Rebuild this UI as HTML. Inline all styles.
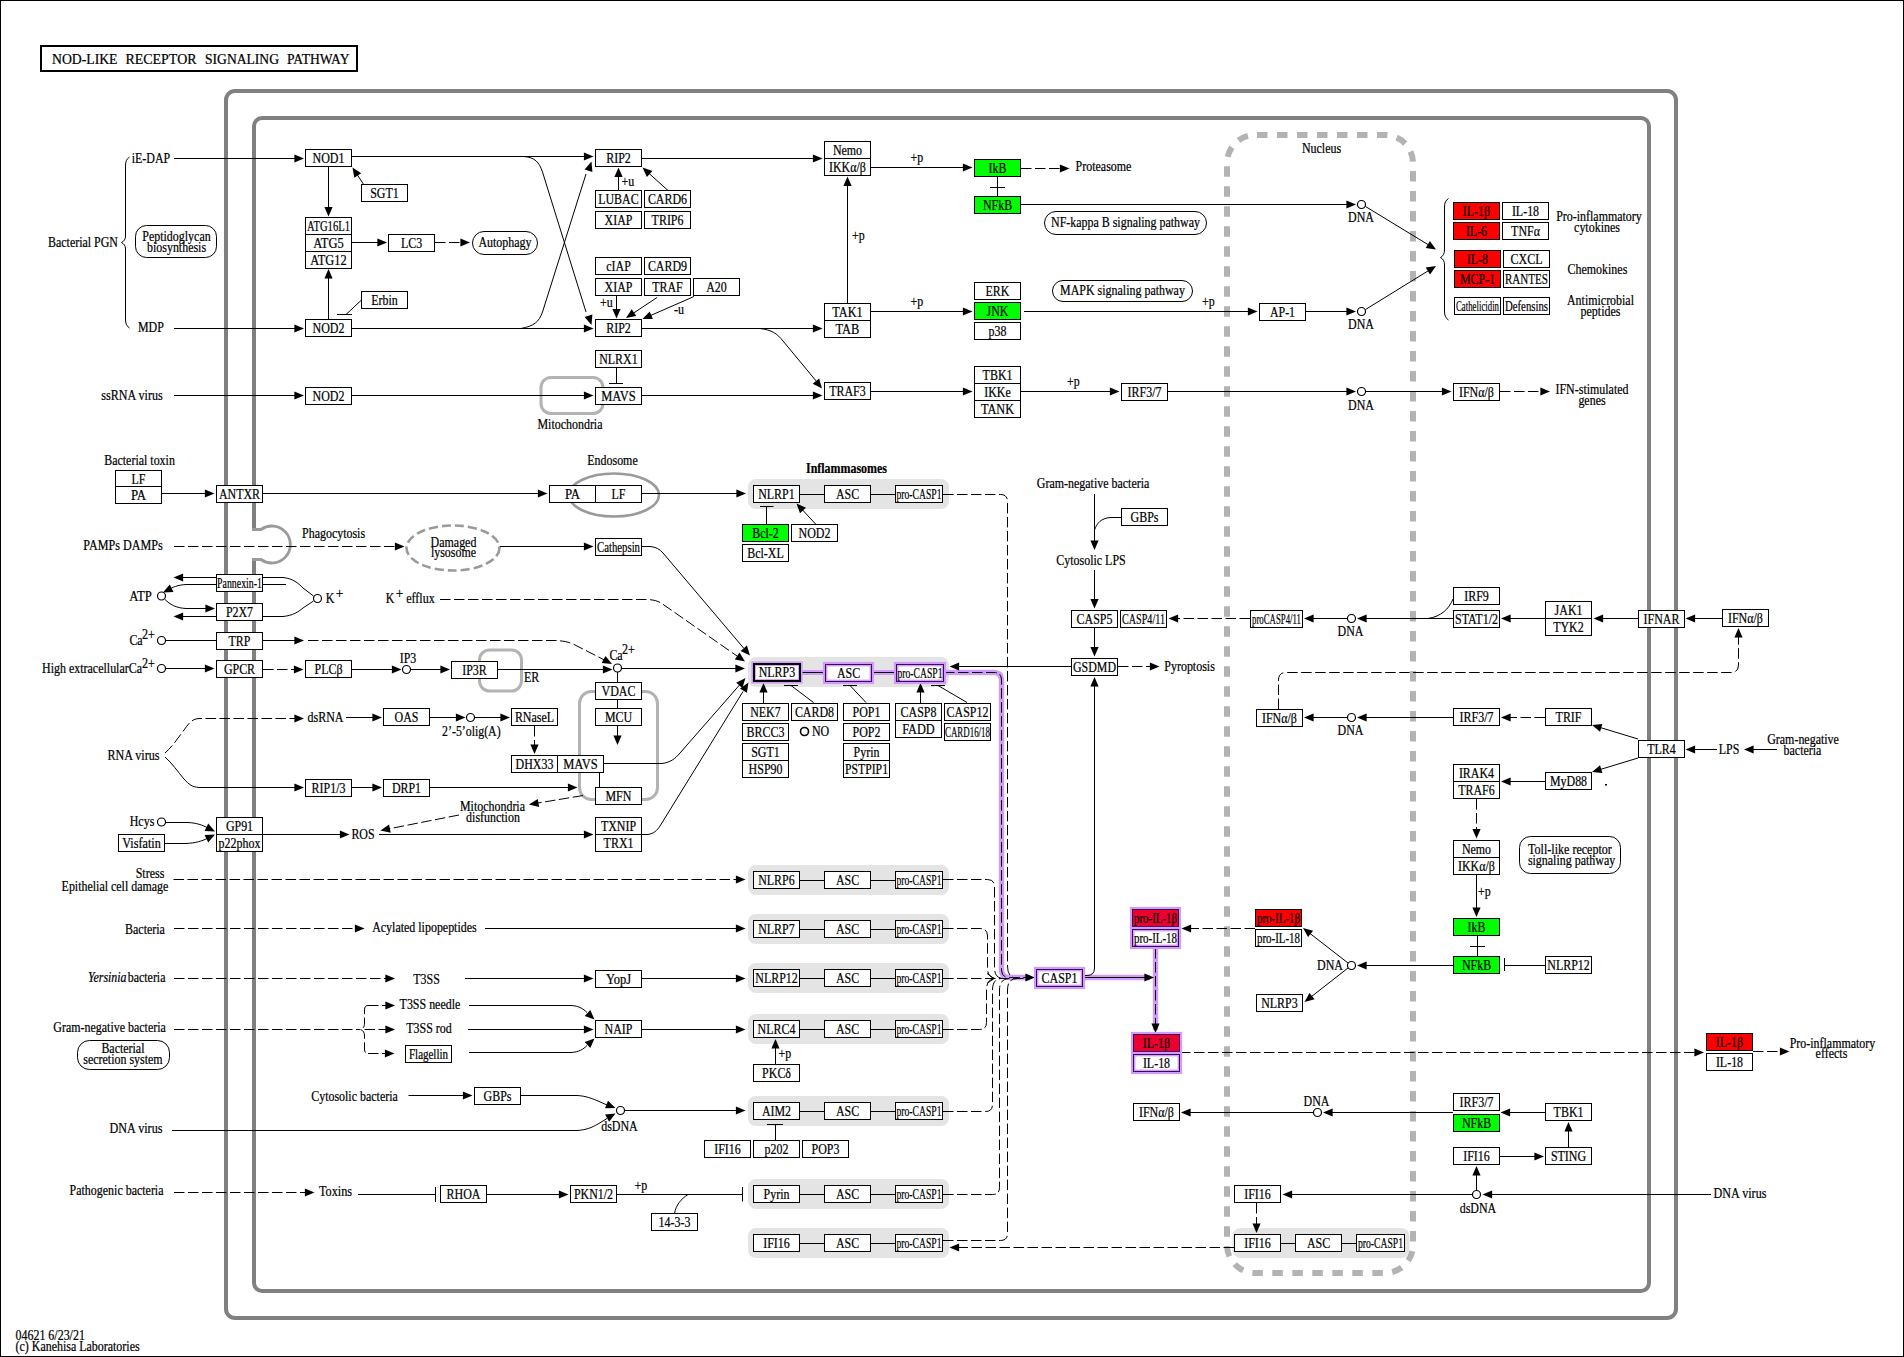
<!DOCTYPE html>
<html><head><meta charset="utf-8"><title>NOD-like receptor signaling pathway</title>
<style>html,body{margin:0;padding:0;background:#fff}svg{display:block}text{font-family:"Liberation Serif","DejaVu Serif",serif;font-size:14px;fill:#000;stroke:#000;stroke-width:0.22px}.ln path{fill:none;stroke:#000;stroke-width:1}.bx rect{fill:#fff;stroke:#000;stroke-width:1;shape-rendering:crispEdges}.bx circle{fill:#fff;stroke:#000}</style></head><body>
<svg width="1904" height="1357" viewBox="0 0 1904 1357">
<rect x="0" y="0" width="1904" height="1357" fill="#fff"/>
<g><rect x="0.5" y="0.5" width="1903" height="1356" fill="none" stroke="#000" stroke-width="1" shape-rendering="crispEdges"/>
<rect x="748" y="479" width="201" height="30" rx="8" ry="8" fill="#e4e4e4"/>
<rect x="748" y="657" width="201" height="30" rx="8" ry="8" fill="#e4e4e4"/>
<rect x="748" y="865" width="201" height="30" rx="8" ry="8" fill="#e4e4e4"/>
<rect x="748" y="914" width="201" height="30" rx="8" ry="8" fill="#e4e4e4"/>
<rect x="748" y="963" width="201" height="30" rx="8" ry="8" fill="#e4e4e4"/>
<rect x="748" y="1014" width="201" height="30" rx="8" ry="8" fill="#e4e4e4"/>
<rect x="748" y="1096" width="201" height="30" rx="8" ry="8" fill="#e4e4e4"/>
<rect x="748" y="1179" width="201" height="30" rx="8" ry="8" fill="#e4e4e4"/>
<rect x="748" y="1228" width="201" height="30" rx="8" ry="8" fill="#e4e4e4"/>
<rect x="1232.5" y="1228" width="177" height="30" rx="8" ry="8" fill="#e4e4e4"/></g>
<g><rect x="226" y="91" width="1450" height="1227" rx="9" ry="9" fill="none" stroke="#808080" stroke-width="4"/>
<path d="M254 529V126a8 8 0 0 1 8 -8H1641a8 8 0 0 1 8 8V1283a8 8 0 0 1 -8 8H262a8 8 0 0 1 -8 -8V559" fill="none" stroke="#808080" stroke-width="4"/>
<path d="M252 529.5H261A18.5 18.5 0 1 1 261 559.5H252" fill="none" stroke="#9a9a9a" stroke-width="2.8"/>
<rect x="1227" y="135" width="186" height="1138" rx="28" ry="28" fill="none" stroke="#b3b3b3" stroke-width="6" stroke-dasharray="10.5 9.5" stroke-dashoffset="18"/>
<rect x="541" y="377.5" width="62" height="36" rx="10" ry="10" fill="none" stroke="#b3b3b3" stroke-width="3"/>
<rect x="479.5" y="650" width="42" height="41" rx="10" ry="10" fill="none" stroke="#b3b3b3" stroke-width="3"/>
<rect x="579.5" y="691.5" width="78" height="108" rx="12" ry="12" fill="none" stroke="#b3b3b3" stroke-width="3"/>
<ellipse cx="614" cy="495" rx="45" ry="21.5" fill="none" stroke="#9a9a9a" stroke-width="2.6"/>
<ellipse cx="453" cy="548" rx="46.5" ry="22.5" fill="none" stroke="#9a9a9a" stroke-width="2.6" stroke-dasharray="9 4"/></g>
<g class="ln"><path d="M800 672.5H825M872 672.5H896" style="stroke:#d19cf7;stroke-width:5"/>
<path d="M944 672.5H994Q1001.5 672.5 1001.5 680V970Q1001.5 977.5 1009 977.5H1030" style="stroke:#d19cf7;stroke-width:5.4"/>
<path d="M1083 977.5H1150" style="stroke:#d19cf7;stroke-width:5.4"/>
<path d="M1155.5 948V1030" style="stroke:#d19cf7;stroke-width:5.4"/></g>
<g class="ln"><path d="M129.5 157C126.5 159 125.5 161.5 125.5 166V236C125.5 239.5 124 241 121.5 242.5C124 244 125.5 245.5 125.5 249V319C125.5 323.5 126.5 326 129.5 328"/>
<rect x="135.5" y="225.5" width="81" height="32" rx="11" ry="11" fill="none" stroke="#000" stroke-width="1"/>
<path d="M174 158.5L295.4 158.5"/>
<polygon points="304,158.5 294.4,162.6 294.4,154.4" fill="#000" stroke="none"/>
<path d="M174 328.5L295.4 328.5"/>
<polygon points="304,328.5 294.4,332.6 294.4,324.4" fill="#000" stroke="none"/>
<path d="M174 395.5L295.4 395.5"/>
<polygon points="304,395.5 294.4,399.6 294.4,391.4" fill="#000" stroke="none"/>
<path d="M328.5 167L328.5 207.9"/>
<polygon points="328.5,216.5 324.4,206.9 332.6,206.9" fill="#000" stroke="none"/>
<path d="M328.5 319L328.5 277.6"/>
<polygon points="328.5,269 332.6,278.6 324.4,278.6" fill="#000" stroke="none"/>
<path d="M364 185L357.2 174.7"/>
<polygon points="352.5,167.5 361.2,173.3 354.3,177.8" fill="#000" stroke="none"/>
<path d="M361.5 300L346 314.5M337 314.5H352"/>
<path d="M352 242.5L378.4 242.5"/>
<polygon points="387,242.5 377.4,246.6 377.4,238.4" fill="#000" stroke="none"/>
<path d="M435 242.5L461.4 242.5" stroke-dasharray="10.5 3.5"/>
<polygon points="470,242.5 460.4,246.6 460.4,238.4" fill="#000" stroke="none"/>
<rect x="472.5" y="231.5" width="65" height="23" rx="11.5" ry="11.5" fill="none" stroke="#000" stroke-width="1"/>
<path d="M352 156.5L584.9 156.5"/>
<polygon points="593.5,156.5 583.9,160.6 583.9,152.4" fill="#000" stroke="none"/>
<path d="M352 328.5L584.9 328.5"/>
<polygon points="593.5,328.5 583.9,332.6 583.9,324.4" fill="#000" stroke="none"/>
<path d="M524 156.5C535 157.5 539 162 542.5 172L586 312"/>
<polygon points="591.5,325 584.6,317.1 592.4,314.6" fill="#000" stroke="none"/>
<path d="M521 328.5C534 326 539 322 542.5 312L586 174"/>
<polygon points="591.5,161.5 592.4,171.9 584.6,169.4" fill="#000" stroke="none"/>
<path d="M618.5 190L618.5 176.1"/>
<polygon points="618.5,167.5 622.6,177.1 614.4,177.1" fill="#000" stroke="none"/>
<path d="M668 190.5L648.9 173.3"/>
<polygon points="642.5,167.5 652.4,170.9 646.9,177" fill="#000" stroke="none"/>
<path d="M616.5 296L616.5 309.9"/>
<polygon points="616.5,318.5 612.4,308.9 620.6,308.9" fill="#000" stroke="none"/>
<path d="M657 297.5L633.2 313.3"/>
<polygon points="626,318 631.7,309.3 636.3,316.1" fill="#000" stroke="none"/>
<path d="M694 296.5L650.4 315.6"/>
<polygon points="642.5,319 649.7,311.4 652.9,318.9" fill="#000" stroke="none"/>
<path d="M642 158.5L813.9 158.5"/>
<polygon points="822.5,158.5 812.9,162.6 812.9,154.4" fill="#000" stroke="none"/>
<path d="M642 328.5L813.9 328.5"/>
<polygon points="822.5,328.5 812.9,332.6 812.9,324.4" fill="#000" stroke="none"/>
<path d="M847.5 303L847.5 185.1"/>
<polygon points="847.5,176.5 851.6,186.1 843.4,186.1" fill="#000" stroke="none"/>
<path d="M871 167.5L963.9 167.5"/>
<polygon points="972.5,167.5 962.9,171.6 962.9,163.4" fill="#000" stroke="none"/>
<path d="M871 311.5L963.9 311.5"/>
<polygon points="972.5,311.5 962.9,315.6 962.9,307.4" fill="#000" stroke="none"/>
<path d="M760 328.5C772 330 777 333.5 783 341L817 382"/>
<polygon points="822,388.5 812.7,383.7 819.1,378.5" fill="#000" stroke="none"/>
<path d="M997.5 177V196M990 187.5H1005"/>
<path d="M1021 168.5L1060.9 168.5" stroke-dasharray="10.5 3.5"/>
<polygon points="1069.5,168.5 1059.9,172.6 1059.9,164.4" fill="#000" stroke="none"/>
<path d="M1021 204.5L1347.4 204.5"/>
<polygon points="1356,204.5 1346.4,208.6 1346.4,200.4" fill="#000" stroke="none"/>
<rect x="1044.5" y="211.5" width="162" height="23" rx="11.5" ry="11.5" fill="none" stroke="#000" stroke-width="1"/>
<rect x="1052.5" y="280.5" width="140" height="21" rx="10.5" ry="10.5" fill="none" stroke="#000" stroke-width="1"/>
<path d="M1024 311.5L1248.9 311.5"/>
<polygon points="1257.5,311.5 1247.9,315.6 1247.9,307.4" fill="#000" stroke="none"/>
<path d="M1306 311.5L1347.4 311.5"/>
<polygon points="1356,311.5 1346.4,315.6 1346.4,307.4" fill="#000" stroke="none"/>
<path d="M1365.5 206.5L1428.7 245"/>
<polygon points="1436,249.5 1425.7,248 1429.9,241" fill="#000" stroke="none"/>
<path d="M1365.5 309.5L1428.7 270.5"/>
<polygon points="1436,266 1430,274.5 1425.7,267.6" fill="#000" stroke="none"/>
<path d="M1448.5 198.5C1445.5 200.5 1444.5 203 1444.5 207V250C1444.5 254 1443 256 1440.5 257.5C1443 259 1444.5 261 1444.5 265V311C1444.5 315.5 1445.5 318 1448.5 320"/>
<path d="M616.5 368V383.5M609 383.5H623"/>
<path d="M352 395.5L584.9 395.5"/>
<polygon points="593.5,395.5 583.9,399.6 583.9,391.4" fill="#000" stroke="none"/>
<path d="M642 395.5L813.9 395.5"/>
<polygon points="822.5,395.5 812.9,399.6 812.9,391.4" fill="#000" stroke="none"/>
<path d="M871 391.5L963.9 391.5"/>
<polygon points="972.5,391.5 962.9,395.6 962.9,387.4" fill="#000" stroke="none"/>
<path d="M1021 391.5L1110.9 391.5"/>
<polygon points="1119.5,391.5 1109.9,395.6 1109.9,387.4" fill="#000" stroke="none"/>
<path d="M1168 391.5L1347.4 391.5"/>
<polygon points="1356,391.5 1346.4,395.6 1346.4,387.4" fill="#000" stroke="none"/>
<path d="M1366 391.5L1442.9 391.5"/>
<polygon points="1451.5,391.5 1441.9,395.6 1441.9,387.4" fill="#000" stroke="none"/>
<path d="M1500 391.5L1541.4 391.5" stroke-dasharray="10.5 3.5"/>
<polygon points="1550,391.5 1540.4,395.6 1540.4,387.4" fill="#000" stroke="none"/>
<path d="M162 493.5L205.9 493.5"/>
<polygon points="214.5,493.5 204.9,497.6 204.9,489.4" fill="#000" stroke="none"/>
<path d="M263 493.5L538.9 493.5"/>
<polygon points="547.5,493.5 537.9,497.6 537.9,489.4" fill="#000" stroke="none"/>
<path d="M642 493.5L737.4 493.5"/>
<polygon points="746,493.5 736.4,497.6 736.4,489.4" fill="#000" stroke="none"/>
<path d="M800 494.5H824M871 494.5H895"/>
<path d="M766.5 524V506.5M760 506.5H773.5"/>
<path d="M816 524.5L802.4 509.8"/>
<polygon points="796.5,503.5 806,507.7 800,513.3" fill="#000" stroke="none"/>
<path d="M943 494.5H1000.5Q1007.5 494.5 1007.5 501.5V966Q1007.5 978.5 1018 978.5" stroke-dasharray="10.5 3.5"/>
<path d="M174 546.5L395.9 546.5" stroke-dasharray="10.5 3.5"/>
<polygon points="404.5,546.5 394.9,550.6 394.9,542.4" fill="#000" stroke="none"/>
<path d="M500 546.5L584.9 546.5"/>
<polygon points="593.5,546.5 583.9,550.6 583.9,542.4" fill="#000" stroke="none"/>
<path d="M642 546.5H650C656 547 659.5 549 663 553L744 648.5"/>
<polygon points="750,655.5 740.7,650.9 746.9,645.5" fill="#000" stroke="none"/>
<path d="M216 577.5L182.1 577.5"/>
<polygon points="173.5,577.5 183.1,573.4 183.1,581.6" fill="#000" stroke="none"/>
<path d="M216 616.5L182.1 616.5"/>
<polygon points="173.5,616.5 183.1,612.4 183.1,620.6" fill="#000" stroke="none"/>
<path d="M216 584.5H186C178 585 172.5 587 168.5 590"/>
<polygon points="163,592.5 169.8,584.5 173.4,591.9" fill="#000" stroke="none"/>
<path d="M165 599.5C170 604.5 176 608 186 608.5H206"/>
<polygon points="215,608.5 205.4,612.6 205.4,604.4" fill="#000" stroke="none"/>
<path d="M263 577.5H283C293 578.5 298 583 303 588L313.5 596"/>
<path d="M263 584.5H286"/>
<path d="M263 616.5H283C293 615.5 298 612 303 608L313.5 601"/>
<path d="M440 599.5H648C656 600 660 602 664 605L737 656" stroke-dasharray="10.5 3.5"/>
<polygon points="745,661.5 734.8,659.4 739.5,652.6" fill="#000" stroke="none"/>
<path d="M165.5 640.5L216 640.5"/>
<path d="M263 640.5L295.4 640.5"/>
<polygon points="304,640.5 294.4,644.6 294.4,636.4" fill="#000" stroke="none"/>
<path d="M308 640.5H556C566 641 572 643 578 646.5L604.5 660" stroke-dasharray="10.5 3.5"/>
<polygon points="612,664 601.6,663.1 605.5,655.9" fill="#000" stroke="none"/>
<path d="M165.5 668.5L205.9 668.5"/>
<polygon points="214.5,668.5 204.9,672.6 204.9,664.4" fill="#000" stroke="none"/>
<path d="M263 669.5L294.9 669.5" stroke-dasharray="10.5 3.5"/>
<polygon points="303.5,669.5 293.9,673.6 293.9,665.4" fill="#000" stroke="none"/>
<path d="M352 669.5L392.9 669.5"/>
<polygon points="401.5,669.5 391.9,673.6 391.9,665.4" fill="#000" stroke="none"/>
<path d="M410.5 669.5L441.4 669.5"/>
<polygon points="450,669.5 440.4,673.6 440.4,665.4" fill="#000" stroke="none"/>
<path d="M498 669.5L603.9 669.5"/>
<polygon points="612.5,669.5 602.9,673.6 602.9,665.4" fill="#000" stroke="none"/>
<path d="M621.5 668.5L736.4 668.5"/>
<polygon points="745,668.5 735.4,672.6 735.4,664.4" fill="#000" stroke="none"/>
<path d="M617.5 672L617.5 682"/>
<path d="M800 672.5H825M872 672.5H896" stroke="#3a0a5e" stroke-width="1.6"/>
<path d="M944 672.5H994Q1001.5 672.5 1001.5 680V970Q1001.5 977.5 1009 977.5H1026" stroke="#3a0a5e" stroke-width="1.6" stroke-dasharray="10.5 3.5"/>
<polygon points="1035,977.5 1025.4,981.6 1025.4,973.4" fill="#000" stroke="none"/>
<path d="M1083 977.5H1145" stroke="#3a0a5e" stroke-width="1.6"/>
<polygon points="1154,977.5 1144.4,981.6 1144.4,973.4" fill="#000" stroke="none"/>
<path d="M1155.5 948V1024" stroke="#3a0a5e" stroke-width="1.6" stroke-dasharray="10.5 3.5"/>
<polygon points="1155.5,1033 1151.4,1023.4 1159.6,1023.4" fill="#000" stroke="none"/>
<path d="M1071 666.5L958.1 666.5"/>
<polygon points="949.5,666.5 959.1,662.4 959.1,670.6" fill="#000" stroke="none"/>
<path d="M763.5 703L763.5 691.6"/>
<polygon points="763.5,683 767.6,692.6 759.4,692.6" fill="#000" stroke="none"/>
<path d="M920.5 703L920.5 691.6"/>
<polygon points="920.5,683 924.6,692.6 916.4,692.6" fill="#000" stroke="none"/>
<path d="M813.5 702.5L791 685.5M784 685.5H798"/>
<path d="M866 702.5L850 685.5M843 685.5H857"/>
<path d="M967 702.5L938 685.5M931 685.5H945"/>
<path d="M1094.5 494L1094.5 541.4"/>
<polygon points="1094.5,550 1090.4,540.4 1098.6,540.4" fill="#000" stroke="none"/>
<path d="M1121 517.5H1110C1101 518.5 1097 523 1094.5 530"/>
<path d="M1094.5 570L1094.5 599.9"/>
<polygon points="1094.5,608.5 1090.4,598.9 1098.6,598.9" fill="#000" stroke="none"/>
<path d="M1094.5 628L1094.5 647.9"/>
<polygon points="1094.5,656.5 1090.4,646.9 1098.6,646.9" fill="#000" stroke="none"/>
<path d="M1118 666.5L1150.9 666.5" stroke-dasharray="10.5 3.5"/>
<polygon points="1159.5,666.5 1149.9,670.6 1149.9,662.4" fill="#000" stroke="none"/>
<path d="M1250 618.5L1177.1 618.5" stroke-dasharray="10.5 3.5"/>
<polygon points="1168.5,618.5 1178.1,614.4 1178.1,622.6" fill="#000" stroke="none"/>
<path d="M1347.5 618.5L1312.6 618.5"/>
<polygon points="1304,618.5 1313.6,614.4 1313.6,622.6" fill="#000" stroke="none"/>
<path d="M1453 618.5L1365.6 618.5"/>
<polygon points="1357,618.5 1366.6,614.4 1366.6,622.6" fill="#000" stroke="none"/>
<path d="M1453 599C1449 609 1441 616.5 1428 618.5"/>
<path d="M1545 618.5L1509.6 618.5"/>
<polygon points="1501,618.5 1510.6,614.4 1510.6,622.6" fill="#000" stroke="none"/>
<path d="M1638 618.5L1602.1 618.5"/>
<polygon points="1593.5,618.5 1603.1,614.4 1603.1,622.6" fill="#000" stroke="none"/>
<path d="M1722 618.5L1694.1 618.5"/>
<polygon points="1685.5,618.5 1695.1,614.4 1695.1,622.6" fill="#000" stroke="none"/>
<path d="M1278.5 709V680Q1278.5 672.5 1286 672.5H1731Q1738.5 672.5 1738.5 665V636" stroke-dasharray="10.5 3.5"/>
<polygon points="1738.5,628 1742.6,637.6 1734.4,637.6" fill="#000" stroke="none"/>
<path d="M617.5 699L617.5 709"/>
<path d="M617.5 726L617.5 736.4"/>
<polygon points="617.5,745 613.4,735.4 621.6,735.4" fill="#000" stroke="none"/>
<path d="M165 753C172 747 178 738 184 730C189 723 192 719 199 718.5H295" stroke-dasharray="10.5 3.5"/>
<polygon points="304,718.5 294.4,722.6 294.4,714.4" fill="#000" stroke="none"/>
<path d="M165 757C172 763 178 772 184 779C189 784.5 192 787 199 787.5H295"/>
<polygon points="304,787.5 294.4,791.6 294.4,783.4" fill="#000" stroke="none"/>
<path d="M346 717.5L373.4 717.5"/>
<polygon points="382,717.5 372.4,721.6 372.4,713.4" fill="#000" stroke="none"/>
<path d="M430 717.5L456.9 717.5"/>
<polygon points="465.5,717.5 455.9,721.6 455.9,713.4" fill="#000" stroke="none"/>
<path d="M474.5 717.5L501.4 717.5"/>
<polygon points="510,717.5 500.4,721.6 500.4,713.4" fill="#000" stroke="none"/>
<path d="M534.5 726L534.5 745.4" stroke-dasharray="10.5 3.5"/>
<polygon points="534.5,754 530.4,744.4 538.6,744.4" fill="#000" stroke="none"/>
<path d="M599.5 773L599.5 787"/>
<path d="M604 763.5H662C670 762.5 675 759 680 753L739.5 685"/>
<polygon points="745.5,678 742.4,688 736.2,682.7" fill="#000" stroke="none"/>
<path d="M352 787.5L373.4 787.5"/>
<polygon points="382,787.5 372.4,791.6 372.4,783.4" fill="#000" stroke="none"/>
<path d="M430 787.5L568.9 787.5"/>
<polygon points="577.5,787.5 567.9,791.6 567.9,783.4" fill="#000" stroke="none"/>
<path d="M583 795.5L537.5 803.1" stroke-dasharray="10.5 3.5"/>
<polygon points="529,804.5 537.8,798.9 539.1,807" fill="#000" stroke="none"/>
<path d="M459 815L388.9 828.8" stroke-dasharray="10.5 3.5"/>
<polygon points="380.5,830.5 389.1,824.6 390.7,832.7" fill="#000" stroke="none"/>
<path d="M165.5 822.5H188C197 823 202 825 207 827.5"/>
<polygon points="215,831.5 204.6,830.9 208.2,823.5" fill="#000" stroke="none"/>
<path d="M165 843.5H186C196 843 202 841 207 838.5"/>
<polygon points="215,834.5 208.2,842.5 204.6,835.1" fill="#000" stroke="none"/>
<path d="M263 834.5L340.9 834.5"/>
<polygon points="349.5,834.5 339.9,838.6 339.9,830.4" fill="#000" stroke="none"/>
<path d="M379 834.5L584.9 834.5"/>
<polygon points="593.5,834.5 583.9,838.6 583.9,830.4" fill="#000" stroke="none"/>
<path d="M642 834.5H648C654 833.5 657 830.5 660 826L743 691.5"/>
<polygon points="748.5,682.5 746.9,692.8 739.9,688.5" fill="#000" stroke="none"/>
<path d="M173.5 879.5L736.9 879.5" stroke-dasharray="10.5 3.5"/>
<polygon points="745.5,879.5 735.9,883.6 735.9,875.4" fill="#000" stroke="none"/>
<path d="M800 880.5H824M871 880.5H895"/>
<path d="M943 879.5H987.5Q994.5 879.5 994.5 886.5V968Q994.5 978.5 1004 978.5" stroke-dasharray="10.5 3.5"/>
<path d="M174 928.5L355.9 928.5" stroke-dasharray="10.5 3.5"/>
<polygon points="364.5,928.5 354.9,932.6 354.9,924.4" fill="#000" stroke="none"/>
<path d="M485 928.5L736.9 928.5"/>
<polygon points="745.5,928.5 735.9,932.6 735.9,924.4" fill="#000" stroke="none"/>
<path d="M800 929.5H824M871 929.5H895"/>
<path d="M943 928.5H980Q987.5 928.5 987.5 936V968Q987.5 978.5 997 978.5" stroke-dasharray="10.5 3.5"/>
<path d="M174 978.5L386.4 978.5" stroke-dasharray="10.5 3.5"/>
<polygon points="395,978.5 385.4,982.6 385.4,974.4" fill="#000" stroke="none"/>
<path d="M465 978.5L584.9 978.5"/>
<polygon points="593.5,978.5 583.9,982.6 583.9,974.4" fill="#000" stroke="none"/>
<path d="M642 978.5L736.9 978.5"/>
<polygon points="745.5,978.5 735.9,982.6 735.9,974.4" fill="#000" stroke="none"/>
<path d="M800 978.5H824M871 978.5H895"/>
<path d="M943 978.5H1030" stroke-dasharray="10.5 3.5"/>
<path d="M987 973.5L994 978.5L987 983.5"/>
<path d="M1083 975.5H1087Q1094.5 975.5 1094.5 968V686"/>
<polygon points="1094.5,677 1098.6,686.6 1090.4,686.6" fill="#000" stroke="none"/>
<path d="M1255 928.5L1190.1 928.5" stroke-dasharray="10.5 3.5"/>
<polygon points="1181.5,928.5 1191.1,924.4 1191.1,932.6" fill="#000" stroke="none"/>
<path d="M1348 963L1309.8 933.3"/>
<polygon points="1303,928 1313.1,930.7 1308.1,937.1" fill="#000" stroke="none"/>
<path d="M1348 968L1311.3 996.7"/>
<polygon points="1304.5,1002 1309.5,992.9 1314.6,999.3" fill="#000" stroke="none"/>
<path d="M1453 965.5L1365.6 965.5"/>
<polygon points="1357,965.5 1366.6,961.4 1366.6,969.6" fill="#000" stroke="none"/>
<path d="M1347.5 717.5L1312.6 717.5"/>
<polygon points="1304,717.5 1313.6,713.4 1313.6,721.6" fill="#000" stroke="none"/>
<path d="M1453 717.5L1365.6 717.5"/>
<polygon points="1357,717.5 1366.6,713.4 1366.6,721.6" fill="#000" stroke="none"/>
<path d="M1545 717.5L1509.6 717.5" stroke-dasharray="10.5 3.5"/>
<polygon points="1501,717.5 1510.6,713.4 1510.6,721.6" fill="#000" stroke="none"/>
<path d="M1638 739L1600.2 727.5"/>
<polygon points="1592,725 1602.4,723.9 1600,731.7" fill="#000" stroke="none"/>
<path d="M1638 758L1600.2 769.5"/>
<polygon points="1592,772 1600,765.3 1602.4,773.1" fill="#000" stroke="none"/>
<rect x="1605" y="784" width="2" height="1.5" fill="#000"/>
<path d="M1545 781.5L1509.6 781.5"/>
<polygon points="1501,781.5 1510.6,777.4 1510.6,785.6" fill="#000" stroke="none"/>
<path d="M1476.5 799L1476.5 829.9" stroke-dasharray="10.5 3.5"/>
<polygon points="1476.5,838.5 1472.4,828.9 1480.6,828.9" fill="#000" stroke="none"/>
<rect x="1519.5" y="836.5" width="101" height="37" rx="11" ry="11" fill="none" stroke="#000" stroke-width="1"/>
<path d="M1476.5 875L1476.5 908.4"/>
<polygon points="1476.5,917 1472.4,907.4 1480.6,907.4" fill="#000" stroke="none"/>
<path d="M1477.5 936V956M1470 946.5H1485"/>
<path d="M1545 965.5H1504.5M1504.5 958V971"/>
<path d="M1717 749.5L1694.1 749.5"/>
<polygon points="1685.5,749.5 1695.1,745.4 1695.1,753.6" fill="#000" stroke="none"/>
<path d="M1777 749.5L1752.6 749.5"/>
<polygon points="1744,749.5 1753.6,745.4 1753.6,753.6" fill="#000" stroke="none"/>
<path d="M174 1029.5H360.5" stroke-dasharray="10.5 3.5"/>
<path d="M368 1005.5Q364.5 1005.5 364.5 1010V1023C364.5 1027 363 1028.5 360.5 1029.5C363 1030.5 364.5 1032 364.5 1036V1049Q364.5 1053.5 368 1053.5" stroke-dasharray="10.5 3.5"/>
<path d="M368 1005.5L386.4 1005.5" stroke-dasharray="10.5 3.5"/>
<polygon points="395,1005.5 385.4,1009.6 385.4,1001.4" fill="#000" stroke="none"/>
<path d="M364.5 1029.5L386.4 1029.5" stroke-dasharray="10.5 3.5"/>
<polygon points="395,1029.5 385.4,1033.6 385.4,1025.4" fill="#000" stroke="none"/>
<path d="M368 1053.5L385.9 1053.5" stroke-dasharray="10.5 3.5"/>
<polygon points="394.5,1053.5 384.9,1057.6 384.9,1049.4" fill="#000" stroke="none"/>
<rect x="77.5" y="1040.5" width="92" height="29" rx="12" ry="12" fill="none" stroke="#000" stroke-width="1"/>
<path d="M469 1005.5H571C579 1006 583 1008.5 587 1012.5"/>
<polygon points="594.5,1019.5 584.7,1016 590.3,1010" fill="#000" stroke="none"/>
<path d="M468 1029.5L584.9 1029.5"/>
<polygon points="593.5,1029.5 583.9,1033.6 583.9,1025.4" fill="#000" stroke="none"/>
<path d="M469 1052.5H571C579 1052 583 1049.5 587 1045.5"/>
<polygon points="594.5,1038.5 590.3,1048 584.7,1042" fill="#000" stroke="none"/>
<path d="M642 1029.5L736.9 1029.5"/>
<polygon points="745.5,1029.5 735.9,1033.6 735.9,1025.4" fill="#000" stroke="none"/>
<path d="M800 1029.5H824M871 1029.5H895"/>
<path d="M943 1029.5H979.5Q986.5 1029.5 986.5 1022.5V990Q986.5 978.5 996 978.5" stroke-dasharray="10.5 3.5"/>
<path d="M775.5 1064L775.5 1047.6"/>
<polygon points="775.5,1039 779.6,1048.6 771.4,1048.6" fill="#000" stroke="none"/>
<path d="M408.5 1095.5L463.9 1095.5"/>
<polygon points="472.5,1095.5 462.9,1099.6 462.9,1091.4" fill="#000" stroke="none"/>
<path d="M521 1095.5H577C586 1096 592 1098.5 598 1101L607 1105"/>
<polygon points="615.5,1108 605.1,1108.3 608,1100.7" fill="#000" stroke="none"/>
<path d="M172 1130.5H577C586 1130 592 1127.5 598 1124L607 1118.5"/>
<polygon points="615.5,1113.5 609.1,1121.7 605.1,1114.6" fill="#000" stroke="none"/>
<path d="M624.5 1110.5L736.9 1110.5"/>
<polygon points="745.5,1110.5 735.9,1114.6 735.9,1106.4" fill="#000" stroke="none"/>
<path d="M800 1111.5H824M871 1111.5H895"/>
<path d="M943 1111.5H985.5Q992.5 1111.5 992.5 1104.5V990Q992.5 978.5 1002 978.5" stroke-dasharray="10.5 3.5"/>
<path d="M775.5 1140V1124.5M767 1124.5H783"/>
<path d="M174 1192.5L305.9 1192.5" stroke-dasharray="10.5 3.5"/>
<polygon points="314.5,1192.5 304.9,1196.6 304.9,1188.4" fill="#000" stroke="none"/>
<path d="M358 1194.5H435.5M435.5 1187V1202"/>
<path d="M487 1194.5L559.9 1194.5"/>
<polygon points="568.5,1194.5 558.9,1198.6 558.9,1190.4" fill="#000" stroke="none"/>
<path d="M617 1194.5H742.5M742.5 1187V1201.5"/>
<path d="M674.5 1213.5C676 1205 681 1199 688 1194.5"/>
<path d="M800 1194.5H824M871 1194.5H895"/>
<path d="M943 1194.5H992.5Q999.5 1194.5 999.5 1187.5V990Q999.5 978.5 1009 978.5" stroke-dasharray="10.5 3.5"/>
<path d="M800 1243.5H824M871 1243.5H895"/>
<path d="M943 1240.5H1000.5Q1007.5 1240.5 1007.5 1233.5V990Q1007.5 978.5 1017 978.5" stroke-dasharray="10.5 3.5"/>
<path d="M1234 1247.5L958.1 1247.5" stroke-dasharray="10.5 3.5"/>
<polygon points="949.5,1247.5 959.1,1243.4 959.1,1251.6" fill="#000" stroke="none"/>
<path d="M1180 1052.5L1695.4 1052.5" stroke-dasharray="10.5 3.5"/>
<polygon points="1704,1052.5 1694.4,1056.6 1694.4,1048.4" fill="#000" stroke="none"/>
<path d="M1753 1051.5L1780.9 1051.5" stroke-dasharray="10.5 3.5"/>
<polygon points="1789.5,1051.5 1779.9,1055.6 1779.9,1047.4" fill="#000" stroke="none"/>
<path d="M1313.5 1112.5L1189.6 1112.5"/>
<polygon points="1181,1112.5 1190.6,1108.4 1190.6,1116.6" fill="#000" stroke="none"/>
<path d="M1453 1112.5L1331.6 1112.5"/>
<polygon points="1323,1112.5 1332.6,1108.4 1332.6,1116.6" fill="#000" stroke="none"/>
<path d="M1545 1112.5L1509.1 1112.5"/>
<polygon points="1500.5,1112.5 1510.1,1108.4 1510.1,1116.6" fill="#000" stroke="none"/>
<path d="M1568.5 1147L1568.5 1130.6"/>
<polygon points="1568.5,1122 1572.6,1131.6 1564.4,1131.6" fill="#000" stroke="none"/>
<path d="M1500 1156.5L1535.4 1156.5"/>
<polygon points="1544,1156.5 1534.4,1160.6 1534.4,1152.4" fill="#000" stroke="none"/>
<path d="M1476.5 1190L1476.5 1174.6"/>
<polygon points="1476.5,1166 1480.6,1175.6 1472.4,1175.6" fill="#000" stroke="none"/>
<path d="M1711 1194.5L1491.1 1194.5"/>
<polygon points="1482.5,1194.5 1492.1,1190.4 1492.1,1198.6" fill="#000" stroke="none"/>
<path d="M1472.5 1194.5L1291.1 1194.5"/>
<polygon points="1282.5,1194.5 1292.1,1190.4 1292.1,1198.6" fill="#000" stroke="none"/>
<path d="M1256.5 1203L1256.5 1224.4" stroke-dasharray="10.5 3.5"/>
<polygon points="1256.5,1233 1252.4,1223.4 1260.6,1223.4" fill="#000" stroke="none"/>
<path d="M1281 1243.5H1295M1342 1243.5H1356"/></g>
<g class="bx"><rect x="41" y="46" width="316" height="25" style="stroke-width:2"/>
<rect x="305.5" y="149.5" width="46" height="17"/>
<rect x="361.5" y="184.5" width="46" height="17"/>
<rect x="305.5" y="217.5" width="46" height="17"/>
<rect x="305.5" y="234.5" width="46" height="17"/>
<rect x="305.5" y="251.5" width="46" height="17"/>
<rect x="388.5" y="234.5" width="46" height="17"/>
<rect x="361.5" y="291.5" width="46" height="17"/>
<rect x="305.5" y="319.5" width="46" height="17"/>
<rect x="305.5" y="387.5" width="46" height="17"/>
<rect x="595.5" y="149.5" width="46" height="17"/>
<rect x="595.5" y="319.5" width="46" height="17"/>
<rect x="595.5" y="190.5" width="46" height="17"/>
<rect x="644.5" y="190.5" width="46" height="17"/>
<rect x="595.5" y="211.5" width="46" height="17"/>
<rect x="644.5" y="211.5" width="46" height="17"/>
<rect x="595.5" y="257.5" width="46" height="17"/>
<rect x="644.5" y="257.5" width="46" height="17"/>
<rect x="595.5" y="278.5" width="46" height="17"/>
<rect x="644.5" y="278.5" width="46" height="17"/>
<rect x="693.5" y="278.5" width="46" height="17"/>
<rect x="824.5" y="141.5" width="46" height="17"/>
<rect x="824.5" y="158.5" width="46" height="17"/>
<rect x="824.5" y="303.5" width="46" height="17"/>
<rect x="824.5" y="320.5" width="46" height="17"/>
<rect x="974.5" y="159.5" width="46" height="17" style="fill:#00ff00"/>
<rect x="974.5" y="196.5" width="46" height="17" style="fill:#00ff00"/>
<circle cx="1361.5" cy="204.5" r="4" stroke-width="1.2"/>
<rect x="974.5" y="282.5" width="46" height="17"/>
<rect x="974.5" y="302.5" width="46" height="17" style="fill:#00ff00"/>
<rect x="974.5" y="322.5" width="46" height="17"/>
<rect x="1259.5" y="303.5" width="46" height="17"/>
<circle cx="1361.5" cy="311.5" r="4" stroke-width="1.2"/>
<rect x="1453.5" y="202.5" width="46" height="17" style="fill:#ff0000"/>
<rect x="1502.5" y="202.5" width="46" height="17"/>
<rect x="1453.5" y="222.5" width="46" height="17" style="fill:#ff0000"/>
<rect x="1502.5" y="222.5" width="46" height="17"/>
<rect x="1454.5" y="250.5" width="46" height="17" style="fill:#ff0000"/>
<rect x="1503.5" y="250.5" width="46" height="17"/>
<rect x="1454.5" y="270.5" width="46" height="17" style="fill:#ff0000"/>
<rect x="1503.5" y="270.5" width="46" height="17"/>
<rect x="1454.5" y="297.5" width="46" height="17"/>
<rect x="1503.5" y="297.5" width="46" height="17"/>
<rect x="595.5" y="350.5" width="46" height="17"/>
<rect x="595.5" y="387.5" width="46" height="17"/>
<rect x="824.5" y="382.5" width="46" height="17"/>
<rect x="974.5" y="366.5" width="46" height="17"/>
<rect x="974.5" y="383.5" width="46" height="17"/>
<rect x="974.5" y="400.5" width="46" height="17"/>
<rect x="1121.5" y="383.5" width="46" height="17"/>
<circle cx="1361.5" cy="391.5" r="4" stroke-width="1.2"/>
<rect x="1453.5" y="383.5" width="46" height="17"/>
<rect x="115.5" y="470.5" width="46" height="16"/>
<rect x="115.5" y="486.5" width="46" height="17"/>
<rect x="216.5" y="485.5" width="46" height="17"/>
<rect x="549.5" y="485.5" width="46" height="17"/>
<rect x="595.5" y="485.5" width="46" height="17"/>
<rect x="753.5" y="485.5" width="46" height="17"/>
<rect x="824.5" y="485.5" width="46" height="17"/>
<rect x="895.5" y="485.5" width="47" height="17"/>
<rect x="742.5" y="524.5" width="46" height="17" style="fill:#00ff00"/>
<rect x="791.5" y="524.5" width="46" height="17"/>
<rect x="742.5" y="544.5" width="46" height="17"/>
<rect x="595.5" y="538.5" width="46" height="17"/>
<rect x="216.5" y="574.5" width="46" height="17"/>
<rect x="216.5" y="603.5" width="46" height="17"/>
<rect x="216.5" y="632.5" width="46" height="17"/>
<rect x="216.5" y="660.5" width="46" height="17"/>
<circle cx="161.5" cy="596" r="4" stroke-width="1.2"/>
<circle cx="317.5" cy="598.5" r="4" stroke-width="1.2"/>
<circle cx="161.5" cy="640.5" r="4" stroke-width="1.2"/>
<circle cx="161.5" cy="668.5" r="4" stroke-width="1.2"/>
<rect x="305.5" y="660.5" width="46" height="17"/>
<circle cx="406.5" cy="669.5" r="4" stroke-width="1.2"/>
<rect x="451.5" y="661.5" width="46" height="17"/>
<circle cx="617.5" cy="668" r="4" stroke-width="1.2"/>
<rect x="754" y="664" width="46" height="17" style="fill:none;stroke:#d19cf7;stroke-width:5.2;shape-rendering:auto"/>
<rect x="755.9" y="665.9" width="42.2" height="13.2" style="fill:#fff;stroke:none;shape-rendering:auto"/>
<rect x="754" y="664" width="46" height="17" style="fill:none;stroke:#000;stroke-width:2"/>
<rect x="825.5" y="664.5" width="46" height="17" style="fill:none;stroke:#d19cf7;stroke-width:5.2;shape-rendering:auto"/>
<rect x="827.4" y="666.4" width="42.2" height="13.2" style="fill:#fff;stroke:none;shape-rendering:auto"/>
<rect x="825.5" y="664.5" width="46" height="17" style="fill:none;stroke:#3a0a5e;stroke-width:1.4"/>
<rect x="896.5" y="664.5" width="47" height="17" style="fill:none;stroke:#d19cf7;stroke-width:5.2;shape-rendering:auto"/>
<rect x="898.4" y="666.4" width="43.2" height="13.2" style="fill:#fff;stroke:none;shape-rendering:auto"/>
<rect x="896.5" y="664.5" width="47" height="17" style="fill:none;stroke:#3a0a5e;stroke-width:1.4"/>
<rect x="742.5" y="703.5" width="46" height="17"/>
<rect x="742.5" y="723.5" width="46" height="17"/>
<rect x="742.5" y="743.5" width="46" height="17"/>
<rect x="742.5" y="760.5" width="46" height="17"/>
<rect x="791.5" y="703.5" width="46" height="17"/>
<circle cx="804.5" cy="731.5" r="4" stroke-width="1.6"/>
<rect x="843.5" y="703.5" width="46" height="17"/>
<rect x="843.5" y="723.5" width="46" height="17"/>
<rect x="843.5" y="743.5" width="46" height="17"/>
<rect x="843.5" y="760.5" width="46" height="17"/>
<rect x="895.5" y="703.5" width="46" height="17"/>
<rect x="895.5" y="720.5" width="46" height="17"/>
<rect x="944.5" y="703.5" width="46" height="17"/>
<rect x="944.5" y="723.5" width="46" height="17"/>
<rect x="1121.5" y="508.5" width="46" height="17"/>
<rect x="1071.5" y="610.5" width="46" height="17"/>
<rect x="1120.5" y="610.5" width="46" height="17"/>
<rect x="1071.5" y="658.5" width="46" height="17"/>
<rect x="1250.5" y="610.5" width="52" height="17"/>
<circle cx="1351.5" cy="618.5" r="4" stroke-width="1.2"/>
<rect x="1453.5" y="587.5" width="46" height="17"/>
<rect x="1453.5" y="610.5" width="46" height="17"/>
<rect x="1545.5" y="601.5" width="46" height="17"/>
<rect x="1545.5" y="618.5" width="46" height="17"/>
<rect x="1638.5" y="610.5" width="46" height="17"/>
<rect x="1722.5" y="609.5" width="46" height="17"/>
<rect x="595.5" y="682.5" width="46" height="17"/>
<rect x="595.5" y="708.5" width="46" height="17"/>
<rect x="595.5" y="787.5" width="46" height="17"/>
<rect x="383.5" y="708.5" width="46" height="17"/>
<circle cx="470.5" cy="717.5" r="4" stroke-width="1.2"/>
<rect x="511.5" y="708.5" width="46" height="17"/>
<rect x="511.5" y="755.5" width="46" height="17"/>
<rect x="557.5" y="755.5" width="46" height="17"/>
<rect x="305.5" y="779.5" width="46" height="17"/>
<rect x="383.5" y="779.5" width="46" height="17"/>
<circle cx="161.5" cy="822" r="4" stroke-width="1.2"/>
<rect x="118.5" y="834.5" width="46" height="17"/>
<rect x="216.5" y="817.5" width="46" height="17"/>
<rect x="216.5" y="834.5" width="46" height="17"/>
<rect x="595.5" y="817.5" width="46" height="17"/>
<rect x="595.5" y="834.5" width="46" height="17"/>
<rect x="753.5" y="871.5" width="46" height="17"/>
<rect x="824.5" y="871.5" width="46" height="17"/>
<rect x="895.5" y="871.5" width="47" height="17"/>
<rect x="753.5" y="920.5" width="46" height="17"/>
<rect x="824.5" y="920.5" width="46" height="17"/>
<rect x="895.5" y="920.5" width="47" height="17"/>
<rect x="595.5" y="970.5" width="46" height="17"/>
<rect x="753.5" y="969.5" width="46" height="17"/>
<rect x="824.5" y="969.5" width="46" height="17"/>
<rect x="895.5" y="969.5" width="47" height="17"/>
<rect x="1036.5" y="969.5" width="46" height="17" style="fill:none;stroke:#d19cf7;stroke-width:5.2;shape-rendering:auto"/>
<rect x="1038.4" y="971.4" width="42.2" height="13.2" style="fill:#fff;stroke:none;shape-rendering:auto"/>
<rect x="1036.5" y="969.5" width="46" height="17" style="fill:none;stroke:#3a0a5e;stroke-width:1.4"/>
<rect x="1132.5" y="909.5" width="46" height="17" style="fill:none;stroke:#d19cf7;stroke-width:5.2;shape-rendering:auto"/>
<rect x="1132.5" y="909.5" width="46" height="17" style="fill:#ec0030;stroke:none;shape-rendering:auto"/>
<rect x="1132.5" y="909.5" width="46" height="17" style="fill:none;stroke:#3a0a5e;stroke-width:1.4"/>
<rect x="1132.5" y="929.5" width="46" height="17" style="fill:none;stroke:#d19cf7;stroke-width:5.2;shape-rendering:auto"/>
<rect x="1134.4" y="931.4" width="42.2" height="13.2" style="fill:#fff;stroke:none;shape-rendering:auto"/>
<rect x="1132.5" y="929.5" width="46" height="17" style="fill:none;stroke:#3a0a5e;stroke-width:1.4"/>
<rect x="1255.5" y="909.5" width="46" height="17" style="fill:#ff0000"/>
<rect x="1255.5" y="929.5" width="46" height="17"/>
<circle cx="1351.5" cy="965.5" r="4" stroke-width="1.2"/>
<rect x="1256.5" y="994.5" width="46" height="17"/>
<rect x="1256.5" y="709.5" width="46" height="17"/>
<circle cx="1351.5" cy="717.5" r="4" stroke-width="1.2"/>
<rect x="1453.5" y="708.5" width="46" height="17"/>
<rect x="1545.5" y="708.5" width="46" height="17"/>
<rect x="1638.5" y="740.5" width="46" height="17"/>
<rect x="1545.5" y="772.5" width="46" height="17"/>
<rect x="1453.5" y="764.5" width="46" height="17"/>
<rect x="1453.5" y="781.5" width="46" height="17"/>
<rect x="1453.5" y="840.5" width="46" height="17"/>
<rect x="1453.5" y="857.5" width="46" height="17"/>
<rect x="1453.5" y="918.5" width="46" height="17" style="fill:#00ff00"/>
<rect x="1453.5" y="956.5" width="46" height="17" style="fill:#00ff00"/>
<rect x="1545.5" y="956.5" width="46" height="17"/>
<rect x="405.5" y="1045.5" width="46" height="17"/>
<rect x="595.5" y="1020.5" width="46" height="17"/>
<rect x="753.5" y="1020.5" width="46" height="17"/>
<rect x="824.5" y="1020.5" width="46" height="17"/>
<rect x="895.5" y="1020.5" width="47" height="17"/>
<rect x="753.5" y="1064.5" width="46" height="17"/>
<rect x="474.5" y="1087.5" width="46" height="17"/>
<circle cx="620.5" cy="1110.5" r="4" stroke-width="1.2"/>
<rect x="753.5" y="1102.5" width="46" height="17"/>
<rect x="824.5" y="1102.5" width="46" height="17"/>
<rect x="895.5" y="1102.5" width="47" height="17"/>
<rect x="704.5" y="1140.5" width="46" height="17"/>
<rect x="753.5" y="1140.5" width="46" height="17"/>
<rect x="802.5" y="1140.5" width="46" height="17"/>
<rect x="440.5" y="1185.5" width="46" height="17"/>
<rect x="570.5" y="1185.5" width="46" height="17"/>
<rect x="651.5" y="1213.5" width="46" height="17"/>
<rect x="753.5" y="1185.5" width="46" height="17"/>
<rect x="824.5" y="1185.5" width="46" height="17"/>
<rect x="895.5" y="1185.5" width="47" height="17"/>
<rect x="753.5" y="1234.5" width="46" height="17"/>
<rect x="824.5" y="1234.5" width="46" height="17"/>
<rect x="895.5" y="1234.5" width="47" height="17"/>
<rect x="1133.5" y="1034.5" width="46" height="17" style="fill:none;stroke:#d19cf7;stroke-width:5.2;shape-rendering:auto"/>
<rect x="1133.5" y="1034.5" width="46" height="17" style="fill:#ec0030;stroke:none;shape-rendering:auto"/>
<rect x="1133.5" y="1034.5" width="46" height="17" style="fill:none;stroke:#3a0a5e;stroke-width:1.4"/>
<rect x="1133.5" y="1054.5" width="46" height="17" style="fill:none;stroke:#d19cf7;stroke-width:5.2;shape-rendering:auto"/>
<rect x="1135.4" y="1056.4" width="42.2" height="13.2" style="fill:#fff;stroke:none;shape-rendering:auto"/>
<rect x="1133.5" y="1054.5" width="46" height="17" style="fill:none;stroke:#3a0a5e;stroke-width:1.4"/>
<rect x="1706.5" y="1033.5" width="46" height="17" style="fill:#ff0000"/>
<rect x="1706.5" y="1053.5" width="46" height="17"/>
<rect x="1133.5" y="1103.5" width="46" height="17"/>
<circle cx="1317.5" cy="1112.5" r="4" stroke-width="1.2"/>
<rect x="1453.5" y="1093.5" width="46" height="17"/>
<rect x="1453.5" y="1114.5" width="46" height="17" style="fill:#00ff00"/>
<rect x="1545.5" y="1103.5" width="46" height="17"/>
<rect x="1545.5" y="1147.5" width="46" height="17"/>
<rect x="1453.5" y="1147.5" width="46" height="17"/>
<circle cx="1476.5" cy="1194.5" r="4" stroke-width="1.2"/>
<rect x="1234.5" y="1185.5" width="46" height="17"/>
<rect x="1234.5" y="1234.5" width="46" height="17"/>
<rect x="1295.5" y="1234.5" width="46" height="17"/>
<rect x="1356.5" y="1234.5" width="48" height="17"/></g>
<g><text x="52" y="64.2" textLength="65.5" lengthAdjust="spacingAndGlyphs" font-size="14.8">NOD-LIKE</text>
<text x="125.5" y="64.2" textLength="71" lengthAdjust="spacingAndGlyphs" font-size="14.8">RECEPTOR</text>
<text x="205" y="64.2" textLength="74" lengthAdjust="spacingAndGlyphs" font-size="14.8">SIGNALING</text>
<text x="287" y="64.2" textLength="62.5" lengthAdjust="spacingAndGlyphs" font-size="14.8">PATHWAY</text>
<text x="1301.9" y="152.9" textLength="39.2" lengthAdjust="spacingAndGlyphs">Nucleus</text>
<text x="537.5" y="428.9" textLength="65" lengthAdjust="spacingAndGlyphs">Mitochondria</text>
<text x="523.9" y="681.9" textLength="15.3" lengthAdjust="spacingAndGlyphs">ER</text>
<text x="587.3" y="465.4" textLength="50.4" lengthAdjust="spacingAndGlyphs">Endosome</text>
<text x="430.6" y="546.9" textLength="45.8" lengthAdjust="spacingAndGlyphs">Damaged</text>
<text x="430.9" y="557.4" textLength="45.1" lengthAdjust="spacingAndGlyphs">lysosome</text>
<text x="806" y="473.4" textLength="81" lengthAdjust="spacingAndGlyphs" font-weight="bold">Inflammasomes</text>
<text x="15.5" y="1339.9" textLength="69.4" lengthAdjust="spacingAndGlyphs">04621 6/23/21</text>
<text x="15.5" y="1351.4" textLength="124.1" lengthAdjust="spacingAndGlyphs">(c) Kanehisa Laboratories</text>
<text x="48" y="246.9" textLength="70" lengthAdjust="spacingAndGlyphs">Bacterial PGN</text>
<text x="131.7" y="162.9" textLength="38.5" lengthAdjust="spacingAndGlyphs">iE-DAP</text>
<text x="138" y="331.9" textLength="25.9" lengthAdjust="spacingAndGlyphs">MDP</text>
<text x="101.3" y="400.4" textLength="61.4" lengthAdjust="spacingAndGlyphs">ssRNA virus</text>
<text x="142.3" y="240.9" textLength="68.4" lengthAdjust="spacingAndGlyphs">Peptidoglycan</text>
<text x="147" y="251.9" textLength="59.1" lengthAdjust="spacingAndGlyphs">biosynthesis</text>
<text x="312.6" y="163" textLength="31.9" lengthAdjust="spacingAndGlyphs">NOD1</text>
<text x="370.2" y="198" textLength="28.6" lengthAdjust="spacingAndGlyphs">SGT1</text>
<text x="307" y="231" textLength="43" lengthAdjust="spacingAndGlyphs">ATG16L1</text>
<text x="313.2" y="248" textLength="30.5" lengthAdjust="spacingAndGlyphs">ATG5</text>
<text x="310.2" y="265" textLength="36.5" lengthAdjust="spacingAndGlyphs">ATG12</text>
<text x="400.9" y="248" textLength="21.2" lengthAdjust="spacingAndGlyphs">LC3</text>
<text x="371.2" y="305" textLength="26.5" lengthAdjust="spacingAndGlyphs">Erbin</text>
<text x="312.6" y="333" textLength="31.9" lengthAdjust="spacingAndGlyphs">NOD2</text>
<text x="312.6" y="401" textLength="31.9" lengthAdjust="spacingAndGlyphs">NOD2</text>
<text x="478.4" y="247.4" textLength="53.1" lengthAdjust="spacingAndGlyphs">Autophagy</text>
<text x="606.2" y="163" textLength="24.6" lengthAdjust="spacingAndGlyphs">RIP2</text>
<text x="606.2" y="333" textLength="24.6" lengthAdjust="spacingAndGlyphs">RIP2</text>
<text x="598.2" y="204" textLength="40.5" lengthAdjust="spacingAndGlyphs">LUBAC</text>
<text x="647.9" y="204" textLength="39.2" lengthAdjust="spacingAndGlyphs">CARD6</text>
<text x="604.6" y="225" textLength="27.9" lengthAdjust="spacingAndGlyphs">XIAP</text>
<text x="651.6" y="225" textLength="31.9" lengthAdjust="spacingAndGlyphs">TRIP6</text>
<text x="606.2" y="271" textLength="24.6" lengthAdjust="spacingAndGlyphs">cIAP</text>
<text x="647.9" y="271" textLength="39.2" lengthAdjust="spacingAndGlyphs">CARD9</text>
<text x="604.6" y="292" textLength="27.9" lengthAdjust="spacingAndGlyphs">XIAP</text>
<text x="652.2" y="292" textLength="30.5" lengthAdjust="spacingAndGlyphs">TRAF</text>
<text x="706.2" y="292" textLength="20.6" lengthAdjust="spacingAndGlyphs">A20</text>
<text x="621.6" y="186.4" textLength="12.7" lengthAdjust="spacingAndGlyphs">+u</text>
<text x="600.1" y="306.9" textLength="12.7" lengthAdjust="spacingAndGlyphs">+u</text>
<text x="674" y="314.4" textLength="10" lengthAdjust="spacingAndGlyphs">-u</text>
<text x="832.9" y="155" textLength="29.2" lengthAdjust="spacingAndGlyphs">Nemo</text>
<text x="829" y="172" textLength="36.9" lengthAdjust="spacingAndGlyphs">IKKα/β</text>
<text x="832.2" y="317" textLength="30.5" lengthAdjust="spacingAndGlyphs">TAK1</text>
<text x="835.5" y="334" textLength="23.9" lengthAdjust="spacingAndGlyphs">TAB</text>
<text x="852.1" y="240.4" textLength="12.7" lengthAdjust="spacingAndGlyphs">+p</text>
<text x="910.6" y="162.4" textLength="12.7" lengthAdjust="spacingAndGlyphs">+p</text>
<text x="910.6" y="305.9" textLength="12.7" lengthAdjust="spacingAndGlyphs">+p</text>
<text x="988.5" y="173" textLength="17.9" lengthAdjust="spacingAndGlyphs">IkB</text>
<text x="982.9" y="210" textLength="29.2" lengthAdjust="spacingAndGlyphs">NFkB</text>
<text x="1075.6" y="171.4" textLength="55.8" lengthAdjust="spacingAndGlyphs">Proteasome</text>
<text x="1348.1" y="222.4" textLength="25.9" lengthAdjust="spacingAndGlyphs">DNA</text>
<text x="1051" y="227.4" textLength="149" lengthAdjust="spacingAndGlyphs">NF-kappa B signaling pathway</text>
<text x="1060.1" y="295.4" textLength="124.8" lengthAdjust="spacingAndGlyphs">MAPK signaling pathway</text>
<text x="985.5" y="296" textLength="23.9" lengthAdjust="spacingAndGlyphs">ERK</text>
<text x="986.5" y="316" textLength="21.9" lengthAdjust="spacingAndGlyphs">JNK</text>
<text x="988.5" y="336" textLength="17.9" lengthAdjust="spacingAndGlyphs">p38</text>
<text x="1202.1" y="305.9" textLength="12.7" lengthAdjust="spacingAndGlyphs">+p</text>
<text x="1269.9" y="317" textLength="25.2" lengthAdjust="spacingAndGlyphs">AP-1</text>
<text x="1348.1" y="329.4" textLength="25.9" lengthAdjust="spacingAndGlyphs">DNA</text>
<text x="1462.8" y="216" textLength="27.3" lengthAdjust="spacingAndGlyphs">IL-1β</text>
<text x="1511.9" y="216" textLength="27.2" lengthAdjust="spacingAndGlyphs">IL-18</text>
<text x="1465.9" y="236" textLength="21.2" lengthAdjust="spacingAndGlyphs">IL-6</text>
<text x="1511.1" y="236" textLength="28.8" lengthAdjust="spacingAndGlyphs">TNFα</text>
<text x="1466.9" y="264" textLength="21.2" lengthAdjust="spacingAndGlyphs">IL-8</text>
<text x="1510.6" y="264" textLength="31.9" lengthAdjust="spacingAndGlyphs">CXCL</text>
<text x="1459.9" y="284" textLength="35.2" lengthAdjust="spacingAndGlyphs">MCP-1</text>
<text x="1505" y="284" textLength="43" lengthAdjust="spacingAndGlyphs">RANTES</text>
<text x="1456" y="311" textLength="43" lengthAdjust="spacingAndGlyphs">Cathelicidin</text>
<text x="1505" y="311" textLength="43" lengthAdjust="spacingAndGlyphs">Defensins</text>
<text x="1556.2" y="221.4" textLength="85.6" lengthAdjust="spacingAndGlyphs">Pro-inflammatory</text>
<text x="1574.1" y="231.9" textLength="45.8" lengthAdjust="spacingAndGlyphs">cytokines</text>
<text x="1567.6" y="274.4" textLength="59.7" lengthAdjust="spacingAndGlyphs">Chemokines</text>
<text x="1567" y="305.4" textLength="67" lengthAdjust="spacingAndGlyphs">Antimicrobial</text>
<text x="1580.6" y="315.9" textLength="39.8" lengthAdjust="spacingAndGlyphs">peptides</text>
<text x="599.2" y="364" textLength="38.5" lengthAdjust="spacingAndGlyphs">NLRX1</text>
<text x="601.2" y="401" textLength="34.5" lengthAdjust="spacingAndGlyphs">MAVS</text>
<text x="829.2" y="396" textLength="36.5" lengthAdjust="spacingAndGlyphs">TRAF3</text>
<text x="982.6" y="380" textLength="29.9" lengthAdjust="spacingAndGlyphs">TBK1</text>
<text x="984.2" y="397" textLength="26.5" lengthAdjust="spacingAndGlyphs">IKKe</text>
<text x="980.9" y="414" textLength="33.2" lengthAdjust="spacingAndGlyphs">TANK</text>
<text x="1067.1" y="385.9" textLength="12.7" lengthAdjust="spacingAndGlyphs">+p</text>
<text x="1127.6" y="397" textLength="33.9" lengthAdjust="spacingAndGlyphs">IRF3/7</text>
<text x="1348.1" y="409.9" textLength="25.9" lengthAdjust="spacingAndGlyphs">DNA</text>
<text x="1459" y="397" textLength="34.9" lengthAdjust="spacingAndGlyphs">IFNα/β</text>
<text x="1555.5" y="394.4" textLength="73" lengthAdjust="spacingAndGlyphs">IFN-stimulated</text>
<text x="1578.4" y="404.9" textLength="27.2" lengthAdjust="spacingAndGlyphs">genes</text>
<text x="104.2" y="465.4" textLength="70.7" lengthAdjust="spacingAndGlyphs">Bacterial toxin</text>
<text x="131.5" y="483.5" textLength="13.9" lengthAdjust="spacingAndGlyphs">LF</text>
<text x="130.9" y="500" textLength="15.3" lengthAdjust="spacingAndGlyphs">PA</text>
<text x="218.9" y="499" textLength="41.2" lengthAdjust="spacingAndGlyphs">ANTXR</text>
<text x="564.9" y="499" textLength="15.3" lengthAdjust="spacingAndGlyphs">PA</text>
<text x="611.5" y="499" textLength="13.9" lengthAdjust="spacingAndGlyphs">LF</text>
<text x="758.2" y="499" textLength="36.5" lengthAdjust="spacingAndGlyphs">NLRP1</text>
<text x="835.9" y="499" textLength="23.2" lengthAdjust="spacingAndGlyphs">ASC</text>
<text x="896.5" y="499" textLength="45" lengthAdjust="spacingAndGlyphs">pro-CASP1</text>
<text x="752.2" y="538" textLength="26.5" lengthAdjust="spacingAndGlyphs">Bcl-2</text>
<text x="798.6" y="538" textLength="31.9" lengthAdjust="spacingAndGlyphs">NOD2</text>
<text x="747.2" y="558" textLength="36.5" lengthAdjust="spacingAndGlyphs">Bcl-XL</text>
<text x="83.3" y="550.4" textLength="79.4" lengthAdjust="spacingAndGlyphs">PAMPs DAMPs</text>
<text x="302" y="538.4" textLength="63.1" lengthAdjust="spacingAndGlyphs">Phagocytosis</text>
<text x="597" y="552" textLength="43" lengthAdjust="spacingAndGlyphs">Cathepsin</text>
<text x="217" y="588" textLength="45" lengthAdjust="spacingAndGlyphs">Pannexin-1</text>
<text x="225.9" y="617" textLength="27.2" lengthAdjust="spacingAndGlyphs">P2X7</text>
<text x="228.5" y="646" textLength="21.9" lengthAdjust="spacingAndGlyphs">TRP</text>
<text x="223.9" y="674" textLength="31.2" lengthAdjust="spacingAndGlyphs">GPCR</text>
<text x="129.2" y="600.9" textLength="22.6" lengthAdjust="spacingAndGlyphs">ATP</text>
<text x="325.7" y="603.4" textLength="8.6" lengthAdjust="spacingAndGlyphs">K</text>
<text x="335.7" y="598.4" textLength="7.6" lengthAdjust="spacingAndGlyphs" font-size="15">+</text>
<text x="385.7" y="603.4" textLength="8.6" lengthAdjust="spacingAndGlyphs">K</text>
<text x="395.7" y="598.4" textLength="7.6" lengthAdjust="spacingAndGlyphs" font-size="15">+</text>
<text x="406.2" y="603.4" textLength="28.5" lengthAdjust="spacingAndGlyphs">efflux</text>
<text x="129.4" y="644.9" textLength="13.3" lengthAdjust="spacingAndGlyphs">Ca</text>
<text x="142.1" y="639.4" textLength="12.8" lengthAdjust="spacingAndGlyphs">2+</text>
<text x="42.1" y="673.4" textLength="99.9" lengthAdjust="spacingAndGlyphs">High extracellularCa</text>
<text x="142.1" y="667.9" textLength="12.8" lengthAdjust="spacingAndGlyphs">2+</text>
<text x="314.5" y="674" textLength="28" lengthAdjust="spacingAndGlyphs">PLCβ</text>
<text x="399.7" y="662.9" textLength="16.6" lengthAdjust="spacingAndGlyphs">IP3</text>
<text x="462.2" y="675" textLength="24.6" lengthAdjust="spacingAndGlyphs">IP3R</text>
<text x="609.4" y="659.9" textLength="13.3" lengthAdjust="spacingAndGlyphs">Ca</text>
<text x="622.1" y="653.9" textLength="12.8" lengthAdjust="spacingAndGlyphs">2+</text>
<text x="758.7" y="677.2" textLength="36.5" lengthAdjust="spacingAndGlyphs">NLRP3</text>
<text x="836.9" y="678.1" textLength="23.2" lengthAdjust="spacingAndGlyphs">ASC</text>
<text x="897.5" y="678.1" textLength="45" lengthAdjust="spacingAndGlyphs">pro-CASP1</text>
<text x="750.2" y="717" textLength="30.5" lengthAdjust="spacingAndGlyphs">NEK7</text>
<text x="746.6" y="737" textLength="37.9" lengthAdjust="spacingAndGlyphs">BRCC3</text>
<text x="751.2" y="757" textLength="28.6" lengthAdjust="spacingAndGlyphs">SGT1</text>
<text x="748.6" y="774" textLength="33.9" lengthAdjust="spacingAndGlyphs">HSP90</text>
<text x="794.9" y="717" textLength="39.2" lengthAdjust="spacingAndGlyphs">CARD8</text>
<text x="811.9" y="736.4" textLength="17.3" lengthAdjust="spacingAndGlyphs">NO</text>
<text x="852.6" y="717" textLength="27.9" lengthAdjust="spacingAndGlyphs">POP1</text>
<text x="852.6" y="737" textLength="27.9" lengthAdjust="spacingAndGlyphs">POP2</text>
<text x="853.6" y="757" textLength="25.9" lengthAdjust="spacingAndGlyphs">Pyrin</text>
<text x="845" y="774" textLength="43" lengthAdjust="spacingAndGlyphs">PSTPIP1</text>
<text x="900.6" y="717" textLength="35.9" lengthAdjust="spacingAndGlyphs">CASP8</text>
<text x="902.2" y="734" textLength="32.5" lengthAdjust="spacingAndGlyphs">FADD</text>
<text x="946.6" y="717" textLength="41.8" lengthAdjust="spacingAndGlyphs">CASP12</text>
<text x="945" y="737" textLength="45" lengthAdjust="spacingAndGlyphs">CARD16/18</text>
<text x="1036.8" y="488.4" textLength="112.5" lengthAdjust="spacingAndGlyphs">Gram-negative bacteria</text>
<text x="1130.6" y="522" textLength="27.9" lengthAdjust="spacingAndGlyphs">GBPs</text>
<text x="1056.3" y="564.9" textLength="69.4" lengthAdjust="spacingAndGlyphs">Cytosolic LPS</text>
<text x="1076.6" y="624" textLength="35.9" lengthAdjust="spacingAndGlyphs">CASP5</text>
<text x="1122" y="624" textLength="43" lengthAdjust="spacingAndGlyphs">CASP4/11</text>
<text x="1073" y="672" textLength="43" lengthAdjust="spacingAndGlyphs">GSDMD</text>
<text x="1164.3" y="671.4" textLength="50.5" lengthAdjust="spacingAndGlyphs">Pyroptosis</text>
<text x="1252" y="624" textLength="49" lengthAdjust="spacingAndGlyphs">proCASP4/11</text>
<text x="1337.6" y="636.4" textLength="25.9" lengthAdjust="spacingAndGlyphs">DNA</text>
<text x="1464.2" y="601" textLength="24.6" lengthAdjust="spacingAndGlyphs">IRF9</text>
<text x="1455" y="624" textLength="43" lengthAdjust="spacingAndGlyphs">STAT1/2</text>
<text x="1554.6" y="615" textLength="27.9" lengthAdjust="spacingAndGlyphs">JAK1</text>
<text x="1553.2" y="632" textLength="30.5" lengthAdjust="spacingAndGlyphs">TYK2</text>
<text x="1643.6" y="624" textLength="35.9" lengthAdjust="spacingAndGlyphs">IFNAR</text>
<text x="1728" y="623" textLength="34.9" lengthAdjust="spacingAndGlyphs">IFNα/β</text>
<text x="601.6" y="696" textLength="33.9" lengthAdjust="spacingAndGlyphs">VDAC</text>
<text x="604.9" y="722" textLength="27.2" lengthAdjust="spacingAndGlyphs">MCU</text>
<text x="605.5" y="801" textLength="25.9" lengthAdjust="spacingAndGlyphs">MFN</text>
<text x="107.4" y="760.4" textLength="52.1" lengthAdjust="spacingAndGlyphs">RNA virus</text>
<text x="307.6" y="722.4" textLength="35.9" lengthAdjust="spacingAndGlyphs">dsRNA</text>
<text x="394.5" y="722" textLength="23.9" lengthAdjust="spacingAndGlyphs">OAS</text>
<text x="442.1" y="735.9" textLength="58.5" lengthAdjust="spacingAndGlyphs">2’-5’olig(A)</text>
<text x="514.9" y="722" textLength="39.2" lengthAdjust="spacingAndGlyphs">RNaseL</text>
<text x="515.6" y="769" textLength="37.8" lengthAdjust="spacingAndGlyphs">DHX33</text>
<text x="563.2" y="769" textLength="34.5" lengthAdjust="spacingAndGlyphs">MAVS</text>
<text x="311.6" y="793" textLength="33.9" lengthAdjust="spacingAndGlyphs">RIP1/3</text>
<text x="391.9" y="793" textLength="29.2" lengthAdjust="spacingAndGlyphs">DRP1</text>
<text x="460" y="810.9" textLength="65" lengthAdjust="spacingAndGlyphs">Mitochondria</text>
<text x="466.1" y="821.9" textLength="53.8" lengthAdjust="spacingAndGlyphs">disfunction</text>
<text x="129.7" y="825.9" textLength="24.6" lengthAdjust="spacingAndGlyphs">Hcys</text>
<text x="122.3" y="848" textLength="38.5" lengthAdjust="spacingAndGlyphs">Visfatin</text>
<text x="225.9" y="831" textLength="27.2" lengthAdjust="spacingAndGlyphs">GP91</text>
<text x="218.6" y="848" textLength="41.8" lengthAdjust="spacingAndGlyphs">p22phox</text>
<text x="351.4" y="839.4" textLength="23.2" lengthAdjust="spacingAndGlyphs">ROS</text>
<text x="600.9" y="831" textLength="35.2" lengthAdjust="spacingAndGlyphs">TXNIP</text>
<text x="603.6" y="848" textLength="29.9" lengthAdjust="spacingAndGlyphs">TRX1</text>
<text x="135.7" y="878.4" textLength="28.6" lengthAdjust="spacingAndGlyphs">Stress</text>
<text x="61.6" y="891.4" textLength="106.8" lengthAdjust="spacingAndGlyphs">Epithelial cell damage</text>
<text x="758.2" y="885" textLength="36.5" lengthAdjust="spacingAndGlyphs">NLRP6</text>
<text x="835.9" y="885" textLength="23.2" lengthAdjust="spacingAndGlyphs">ASC</text>
<text x="896.5" y="885" textLength="45" lengthAdjust="spacingAndGlyphs">pro-CASP1</text>
<text x="125.1" y="933.9" textLength="39.8" lengthAdjust="spacingAndGlyphs">Bacteria</text>
<text x="372.2" y="932.4" textLength="104.5" lengthAdjust="spacingAndGlyphs">Acylated lipopeptides</text>
<text x="758.2" y="934" textLength="36.5" lengthAdjust="spacingAndGlyphs">NLRP7</text>
<text x="835.9" y="934" textLength="23.2" lengthAdjust="spacingAndGlyphs">ASC</text>
<text x="896.5" y="934" textLength="45" lengthAdjust="spacingAndGlyphs">pro-CASP1</text>
<text x="88" y="982.4" textLength="38.5" lengthAdjust="spacingAndGlyphs" font-style="italic">Yersinia</text>
<text x="127.7" y="982.4" textLength="37.8" lengthAdjust="spacingAndGlyphs">bacteria</text>
<text x="413.2" y="983.9" textLength="26.6" lengthAdjust="spacingAndGlyphs">T3SS</text>
<text x="605.9" y="984" textLength="25.2" lengthAdjust="spacingAndGlyphs">YopJ</text>
<text x="755.3" y="983" textLength="42.5" lengthAdjust="spacingAndGlyphs">NLRP12</text>
<text x="835.9" y="983" textLength="23.2" lengthAdjust="spacingAndGlyphs">ASC</text>
<text x="896.5" y="983" textLength="45" lengthAdjust="spacingAndGlyphs">pro-CASP1</text>
<text x="1041.6" y="983.1" textLength="35.9" lengthAdjust="spacingAndGlyphs">CASP1</text>
<text x="1134" y="923.1" textLength="43" lengthAdjust="spacingAndGlyphs">pro-IL-1β</text>
<text x="1134" y="943.1" textLength="43" lengthAdjust="spacingAndGlyphs">pro-IL-18</text>
<text x="1257" y="923" textLength="43" lengthAdjust="spacingAndGlyphs">pro-IL-1β</text>
<text x="1257" y="943" textLength="43" lengthAdjust="spacingAndGlyphs">pro-IL-18</text>
<text x="1317.1" y="970.4" textLength="25.9" lengthAdjust="spacingAndGlyphs">DNA</text>
<text x="1261.2" y="1008" textLength="36.5" lengthAdjust="spacingAndGlyphs">NLRP3</text>
<text x="1262" y="723" textLength="34.9" lengthAdjust="spacingAndGlyphs">IFNα/β</text>
<text x="1337.6" y="735.4" textLength="25.9" lengthAdjust="spacingAndGlyphs">DNA</text>
<text x="1459.6" y="722" textLength="33.9" lengthAdjust="spacingAndGlyphs">IRF3/7</text>
<text x="1555.6" y="722" textLength="25.9" lengthAdjust="spacingAndGlyphs">TRIF</text>
<text x="1647.2" y="754" textLength="28.5" lengthAdjust="spacingAndGlyphs">TLR4</text>
<text x="1549.9" y="786" textLength="37.2" lengthAdjust="spacingAndGlyphs">MyD88</text>
<text x="1458.9" y="778" textLength="35.2" lengthAdjust="spacingAndGlyphs">IRAK4</text>
<text x="1458.2" y="795" textLength="36.5" lengthAdjust="spacingAndGlyphs">TRAF6</text>
<text x="1461.9" y="854" textLength="29.2" lengthAdjust="spacingAndGlyphs">Nemo</text>
<text x="1458" y="871" textLength="36.9" lengthAdjust="spacingAndGlyphs">IKKα/β</text>
<text x="1528" y="854.4" textLength="83.9" lengthAdjust="spacingAndGlyphs">Toll-like receptor</text>
<text x="1527.9" y="865.4" textLength="87.3" lengthAdjust="spacingAndGlyphs">signaling pathway</text>
<text x="1478.1" y="895.9" textLength="12.7" lengthAdjust="spacingAndGlyphs">+p</text>
<text x="1467.5" y="932" textLength="17.9" lengthAdjust="spacingAndGlyphs">IkB</text>
<text x="1461.9" y="970" textLength="29.2" lengthAdjust="spacingAndGlyphs">NFkB</text>
<text x="1547.3" y="970" textLength="42.5" lengthAdjust="spacingAndGlyphs">NLRP12</text>
<text x="1718.7" y="753.9" textLength="20.6" lengthAdjust="spacingAndGlyphs">LPS</text>
<text x="1767.2" y="744.4" textLength="71.7" lengthAdjust="spacingAndGlyphs">Gram-negative</text>
<text x="1783.6" y="755.4" textLength="37.8" lengthAdjust="spacingAndGlyphs">bacteria</text>
<text x="53.3" y="1031.9" textLength="112.5" lengthAdjust="spacingAndGlyphs">Gram-negative bacteria</text>
<text x="399.6" y="1008.9" textLength="60.7" lengthAdjust="spacingAndGlyphs">T3SS needle</text>
<text x="406.3" y="1032.9" textLength="45.5" lengthAdjust="spacingAndGlyphs">T3SS rod</text>
<text x="409" y="1059" textLength="39" lengthAdjust="spacingAndGlyphs">Flagellin</text>
<text x="101.4" y="1052.9" textLength="43.1" lengthAdjust="spacingAndGlyphs">Bacterial</text>
<text x="83.3" y="1064.4" textLength="79.3" lengthAdjust="spacingAndGlyphs">secretion system</text>
<text x="604.6" y="1034" textLength="27.9" lengthAdjust="spacingAndGlyphs">NAIP</text>
<text x="757.6" y="1034" textLength="37.8" lengthAdjust="spacingAndGlyphs">NLRC4</text>
<text x="835.9" y="1034" textLength="23.2" lengthAdjust="spacingAndGlyphs">ASC</text>
<text x="896.5" y="1034" textLength="45" lengthAdjust="spacingAndGlyphs">pro-CASP1</text>
<text x="762.1" y="1078" textLength="28.9" lengthAdjust="spacingAndGlyphs">PKCδ</text>
<text x="778.6" y="1058.4" textLength="12.7" lengthAdjust="spacingAndGlyphs">+p</text>
<text x="311.2" y="1101.4" textLength="86.6" lengthAdjust="spacingAndGlyphs">Cytosolic bacteria</text>
<text x="483.6" y="1101" textLength="27.9" lengthAdjust="spacingAndGlyphs">GBPs</text>
<text x="109.6" y="1133.4" textLength="52.8" lengthAdjust="spacingAndGlyphs">DNA virus</text>
<text x="601.2" y="1131.4" textLength="36.5" lengthAdjust="spacingAndGlyphs">dsDNA</text>
<text x="761.9" y="1116" textLength="29.2" lengthAdjust="spacingAndGlyphs">AIM2</text>
<text x="835.9" y="1116" textLength="23.2" lengthAdjust="spacingAndGlyphs">ASC</text>
<text x="896.5" y="1116" textLength="45" lengthAdjust="spacingAndGlyphs">pro-CASP1</text>
<text x="714.2" y="1154" textLength="26.6" lengthAdjust="spacingAndGlyphs">IFI16</text>
<text x="764.5" y="1154" textLength="23.9" lengthAdjust="spacingAndGlyphs">p202</text>
<text x="811.6" y="1154" textLength="27.9" lengthAdjust="spacingAndGlyphs">POP3</text>
<text x="69.6" y="1195.4" textLength="93.9" lengthAdjust="spacingAndGlyphs">Pathogenic bacteria</text>
<text x="318.9" y="1196.4" textLength="33.2" lengthAdjust="spacingAndGlyphs">Toxins</text>
<text x="446.6" y="1199" textLength="33.9" lengthAdjust="spacingAndGlyphs">RHOA</text>
<text x="573.9" y="1199" textLength="39.2" lengthAdjust="spacingAndGlyphs">PKN1/2</text>
<text x="634.6" y="1189.9" textLength="12.7" lengthAdjust="spacingAndGlyphs">+p</text>
<text x="658.6" y="1227" textLength="31.9" lengthAdjust="spacingAndGlyphs">14-3-3</text>
<text x="763.6" y="1199" textLength="25.9" lengthAdjust="spacingAndGlyphs">Pyrin</text>
<text x="835.9" y="1199" textLength="23.2" lengthAdjust="spacingAndGlyphs">ASC</text>
<text x="896.5" y="1199" textLength="45" lengthAdjust="spacingAndGlyphs">pro-CASP1</text>
<text x="763.2" y="1248" textLength="26.6" lengthAdjust="spacingAndGlyphs">IFI16</text>
<text x="835.9" y="1248" textLength="23.2" lengthAdjust="spacingAndGlyphs">ASC</text>
<text x="896.5" y="1248" textLength="45" lengthAdjust="spacingAndGlyphs">pro-CASP1</text>
<text x="1142.8" y="1048.1" textLength="27.3" lengthAdjust="spacingAndGlyphs">IL-1β</text>
<text x="1142.9" y="1068.1" textLength="27.2" lengthAdjust="spacingAndGlyphs">IL-18</text>
<text x="1715.8" y="1047" textLength="27.3" lengthAdjust="spacingAndGlyphs">IL-1β</text>
<text x="1715.9" y="1067" textLength="27.2" lengthAdjust="spacingAndGlyphs">IL-18</text>
<text x="1789.7" y="1047.9" textLength="85.6" lengthAdjust="spacingAndGlyphs">Pro-inflammatory</text>
<text x="1815.6" y="1058.4" textLength="31.8" lengthAdjust="spacingAndGlyphs">effects</text>
<text x="1139" y="1117" textLength="34.9" lengthAdjust="spacingAndGlyphs">IFNα/β</text>
<text x="1303.6" y="1105.9" textLength="25.9" lengthAdjust="spacingAndGlyphs">DNA</text>
<text x="1459.6" y="1107" textLength="33.9" lengthAdjust="spacingAndGlyphs">IRF3/7</text>
<text x="1461.9" y="1128" textLength="29.2" lengthAdjust="spacingAndGlyphs">NFkB</text>
<text x="1553.6" y="1117" textLength="29.9" lengthAdjust="spacingAndGlyphs">TBK1</text>
<text x="1550.9" y="1161" textLength="35.2" lengthAdjust="spacingAndGlyphs">STING</text>
<text x="1463.2" y="1161" textLength="26.6" lengthAdjust="spacingAndGlyphs">IFI16</text>
<text x="1459.7" y="1213.4" textLength="36.5" lengthAdjust="spacingAndGlyphs">dsDNA</text>
<text x="1713.6" y="1197.9" textLength="52.8" lengthAdjust="spacingAndGlyphs">DNA virus</text>
<text x="1244.2" y="1199" textLength="26.6" lengthAdjust="spacingAndGlyphs">IFI16</text>
<text x="1244.2" y="1248" textLength="26.6" lengthAdjust="spacingAndGlyphs">IFI16</text>
<text x="1306.9" y="1248" textLength="23.2" lengthAdjust="spacingAndGlyphs">ASC</text>
<text x="1358" y="1248" textLength="45" lengthAdjust="spacingAndGlyphs">pro-CASP1</text></g>
</svg></body></html>
